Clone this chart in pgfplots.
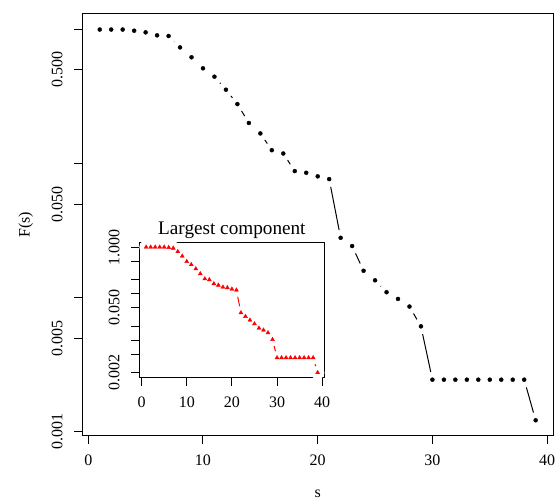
\documentclass[border=0pt]{standalone}
\usepackage{fontspec}
\setmainfont{Liberation Serif}
\usepackage{pgfplots}
\usepackage{pgfplotstable}
\pgfplotsset{compat=1.18}

% F(s), all nodes
\pgfplotstableread{
s F
1 1.0
2 1.0
3 1.0
4 0.98
5 0.953
6 0.905
7 0.895
8 0.736
9 0.621
10 0.514
11 0.445
12 0.356
13 0.278
14 0.201
15 0.168
16 0.126
17 0.119
18 0.088
19 0.0855
20 0.0804
21 0.0767
22 0.028
23 0.0243
24 0.0159
25 0.0135
26 0.011
27 0.0098
28 0.0086
29 0.00612
30 0.00245
31 0.00245
32 0.00245
33 0.00245
34 0.00245
35 0.00245
36 0.00245
37 0.00245
38 0.00245
39 0.00122
}\mainF

% F(s), largest component
\pgfplotstableread{
s F
1 1.0
2 1.0
3 1.0
4 1.0
5 1.0
6 0.98
7 0.95
8 0.80
9 0.64
10 0.49
11 0.42
12 0.342
13 0.267
14 0.208
15 0.199
16 0.163
17 0.152
18 0.138
19 0.134
20 0.125
21 0.119
22 0.0387
23 0.0323
24 0.0269
25 0.0224
26 0.0181
27 0.0164
28 0.0144
29 0.0103
30 0.00418
31 0.00418
32 0.00418
33 0.00418
34 0.00418
35 0.00418
36 0.00418
37 0.00418
38 0.00418
39 0.002
}\lcF

\newcommand{\lbl}{\fontsize{16bp}{19bp}\selectfont}

\pgfplotsset{rplot/.style={
  anchor=south west,
  axis on top, clip=false,
  xmin=-0.52, xmax=40.52,
  xtick={0,10,20,30,40}, xticklabels={0,10,20,30,40},
  xtick pos=left, ytick pos=left, tick align=outside,
  major tick length=8bp, minor tick num=0,
  axis line style={line width=1bp}, every tick/.style={black, line width=1bp},
  tick label style={font=\lbl, inner sep=0pt},
  xticklabel style={anchor=north, yshift=-11bp},
  yticklabel style={xshift=-11.5bp, rotate=90, anchor=south},
  label style={font=\lbl, inner sep=0pt},
}}

\begin{document}
\begin{tikzpicture}
\useasboundingbox (0,0) rectangle (557bp,502bp);
\begin{axis}[ymode=log, scale only axis, rplot,
  at={(82.3bp,66.1bp)}, width=470.8bp, height=422bp,
  ymin=0.000933, ymax=1.308,
  ytick={0.001,0.005,0.01,0.05,0.1,0.5,1},
  yticklabels={0.001,0.005,,0.050,,0.500,},
  xlabel={s}, ylabel={F(s)},
  xlabel style={at={([yshift=-62bp]axis description cs:0.5,0)}, anchor=base},
  ylabel style={at={([xshift=-52.8bp]axis description cs:0,0.5)}, anchor=base},
]
\addplot[black, line width=1bp] table {\mainF};
\addplot[only marks, mark=*, mark size=7.8bp, mark options={draw=white, fill=white}] table {\mainF};
\addplot[only marks, mark=*, mark size=2bp, mark options={draw=black, fill=black}] table {\mainF};
\end{axis}

\begin{axis}[ymode=log, scale only axis, rplot,
  at={(139.3bp,124.3bp)}, width=185.2bp, height=135.6bp,
  ymin=0.001556, ymax=1.2823,
  ytick={0.002,0.005,0.01,0.02,0.05,0.1,0.2,0.5,1},
  yticklabels={0.002,,,,0.050,,,,1.000},
  title={Largest component},
  title style={font=\fontsize{19.2bp}{23bp}\selectfont, inner sep=0pt,
    at={([yshift=2bp]axis description cs:0.5,1)}, anchor=base},
]
\addplot[red, line width=1bp] table {\lcF};
\addplot[only marks, mark=*, mark size=6.5bp, mark options={draw=white, fill=white}] table {\lcF};
\addplot[only marks, mark=triangle*, mark size=2.3bp, mark options={draw=red, fill=red}] table {\lcF};
\end{axis}
\end{tikzpicture}
\end{document}
